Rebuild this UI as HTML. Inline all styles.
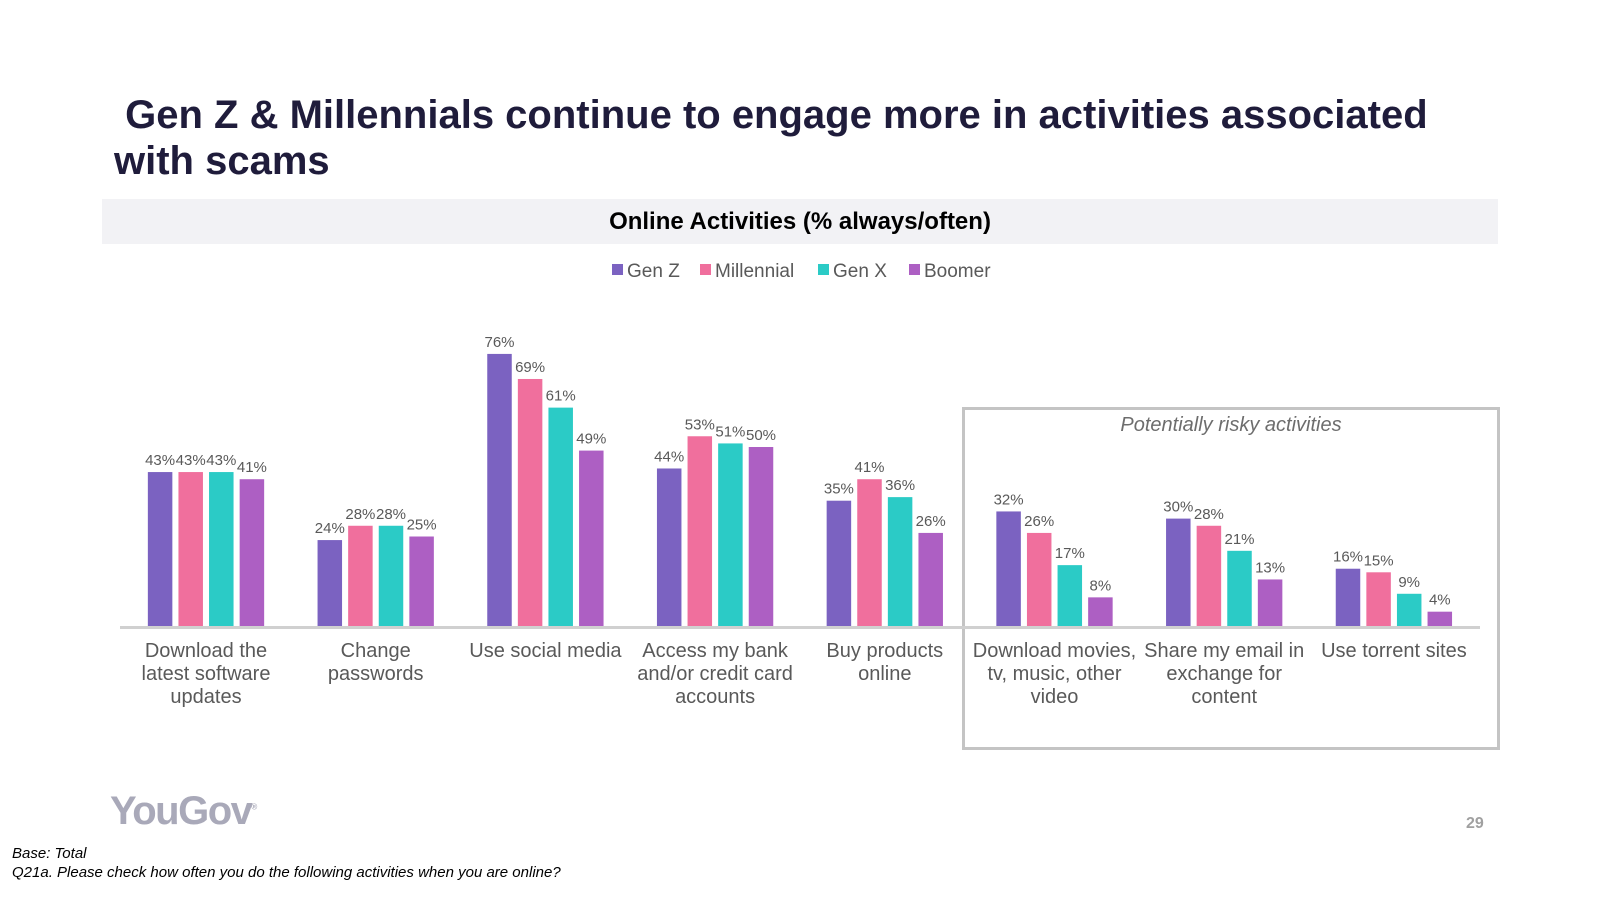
<!DOCTYPE html>
<html><head><meta charset="utf-8">
<style>
body{margin:0;width:1600px;height:900px;background:#fff;position:relative;overflow:hidden;font-family:"Liberation Sans",sans-serif}
.t{position:absolute;white-space:nowrap}
</style></head><body>
<div class="t" style="left:114px;top:92px;font-size:40px;font-weight:bold;color:#1f1c3b;line-height:46px">&nbsp;Gen Z &amp; Millennials continue to engage more in activities associated<br>with scams</div>
<div style="position:absolute;left:102px;top:199px;width:1396px;height:45px;background:#f2f2f5"></div>
<div class="t" style="left:102px;width:1396px;top:208px;text-align:center;font-size:24px;font-weight:bold;color:#000">Online Activities (% always/often)</div>
<div style="position:absolute;left:962px;top:407px;width:532px;height:337px;border:3px solid #c4c4c4"></div>
<div class="t" style="left:962px;width:538px;top:414px;text-align:center;font-size:20px;font-style:italic;color:#6d6d6d">Potentially risky activities</div>
<svg id="c" width="1600" height="900" style="position:absolute;left:0;top:0"></svg>
<div class="t" style="left:110px;top:789px;font-size:40px;font-weight:bold;color:#a9a9b9;letter-spacing:-1.5px">YouGov<sup style="font-size:8px">®</sup></div>
<div class="t" style="left:1466px;top:815px;font-size:16px;font-weight:bold;color:#a0a0a0">29</div>
<div class="t" style="left:12px;top:845px;font-size:15px;font-style:italic;color:#000">Base: Total</div>
<div class="t" style="left:12px;top:864px;font-size:15px;font-style:italic;color:#000">Q21a. Please check how often you do the following activities when you are online?</div>
<script>
const categories=[["Download the","latest software","updates"],["Change","passwords"],["Use social media"],["Access my bank","and/or credit card","accounts"],["Buy products","online"],["Download movies,","tv, music, other","video"],["Share my email in","exchange for","content"],["Use torrent sites"]];
const seriesNames=["Gen Z","Millennial","Gen X","Boomer"];
const genZ=[43,24,76,44,35,32,30,16];
const millennial=[43,28,69,53,41,26,28,15];
const genX=[43,28,61,51,36,17,21,9];
const boomer=[41,25,49,50,26,8,13,4];
const colors=["#7b62c1","#f06f9d","#2bcbc6","#ad5fc3"];
const series=[genZ,millennial,genX,boomer];
const NS="http://www.w3.org/2000/svg";
const svg=document.getElementById('c');
const base=626,pxPer=3.58,x0=206,pitch=169.7,bw=24.5,step=30.6;
const y=v=>base-v*pxPer;
const xc=i=>x0+i*pitch;
function mk(tag,attrs,txt){const e=document.createElementNS(NS,tag);for(const k in attrs)e.setAttribute(k,attrs[k]);if(txt!==undefined)e.textContent=txt;svg.appendChild(e);return e;}
series.forEach((s,si)=>{
 s.forEach((v,i)=>{
  const cx=xc(i)+(si-1.5)*step;
  const r=mk('rect',{x:cx-bw/2,y:y(v),width:bw,height:v*pxPer,fill:colors[si]});
  
  
  const t=mk('text',{x:cx,y:y(v)-7,'text-anchor':'middle','font-size':15,fill:'#595959','font-family':'Liberation Sans'},v+'%');
  
  
 });
});
const ax=mk('line',{x1:120,x2:1480,y1:base+1.5,y2:base+1.5,stroke:'#d0d0d0','stroke-width':3});


categories.forEach((c,i)=>{
 c.forEach((ln,j)=>{
  const t=mk('text',{x:xc(i),y:657+j*23,'text-anchor':'middle','font-size':20,fill:'#595959','font-family':'Liberation Sans'},ln);
  
  
 });
});
const lx=[612,700,818,909];
seriesNames.forEach((n,i)=>{
 const r=mk('rect',{x:lx[i],y:264,width:11,height:11,fill:colors[i]});
 
 
 const t=mk('text',{x:lx[i]+15,y:277,'font-size':19,fill:'#595959','font-family':'Liberation Sans'},n);
 
 
});
</script>
</body></html>
